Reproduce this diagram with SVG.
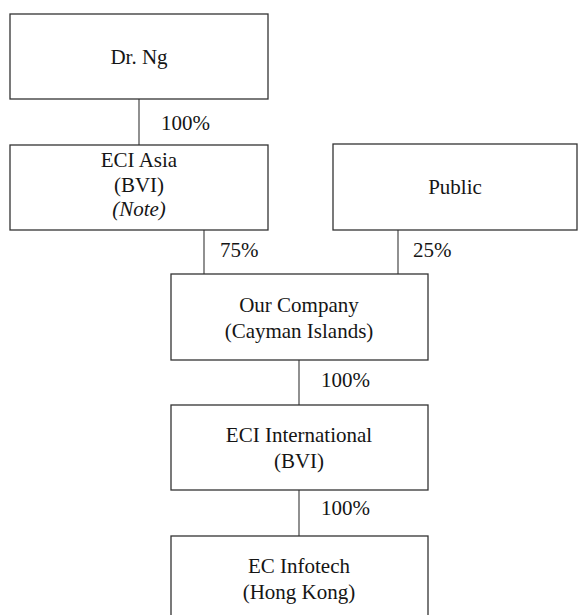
<svg xmlns="http://www.w3.org/2000/svg" width="580" height="615" viewBox="0 0 580 615" font-family="'Liberation Serif', 'DejaVu Serif', serif">
<style>
.box{fill:#fff;stroke:#333;stroke-width:1.3}
.ln{stroke:#555;stroke-width:1.3;fill:none}
text{font-family:'Liberation Serif','DejaVu Serif',serif;font-size:21px;fill:#151515}
.c{text-anchor:middle}
</style>
<rect width="580" height="615" fill="#fff"/>
<g id="connectors">
<line class="ln" x1="139" y1="99" x2="139" y2="145"/>
<line class="ln" x1="204" y1="230" x2="204" y2="275"/>
<line class="ln" x1="398" y1="230" x2="398" y2="275"/>
<line class="ln" x1="299" y1="360" x2="299" y2="405"/>
<line class="ln" x1="299" y1="490" x2="299" y2="536"/>
<text x="161" y="130">100%</text>
<text x="220" y="257">75%</text>
<text x="413" y="257">25%</text>
<text x="321" y="387">100%</text>
<text x="321" y="515">100%</text>
</g>
<g id="drng">
<rect class="box" x="10" y="14" width="258" height="85"/>
<text class="c" x="139" y="64">Dr. Ng</text>
</g>
<g id="eciasia">
<rect class="box" x="10" y="145" width="258" height="85"/>
<text class="c" x="139" y="167">ECI Asia</text>
<text class="c" x="139" y="192">(BVI)</text>
<text class="c" x="139" y="216" font-style="italic">(Note)</text>
</g>
<g id="public">
<rect class="box" x="333" y="144" width="244" height="86"/>
<text class="c" x="455" y="194">Public</text>
</g>
<g id="ourcompany">
<rect class="box" x="171" y="274" width="257" height="86"/>
<text class="c" x="299" y="312">Our Company</text>
<text class="c" x="299" y="338">(Cayman Islands)</text>
</g>
<g id="eciintl">
<rect class="box" x="171" y="405" width="257" height="85"/>
<text class="c" x="299" y="442">ECI International</text>
<text class="c" x="299" y="468">(BVI)</text>
</g>
<g id="ecinfotech">
<rect class="box" x="171" y="536" width="257" height="85"/>
<text class="c" x="299" y="573">EC Infotech</text>
<text class="c" x="299" y="599">(Hong Kong)</text>
</g>
</svg>
